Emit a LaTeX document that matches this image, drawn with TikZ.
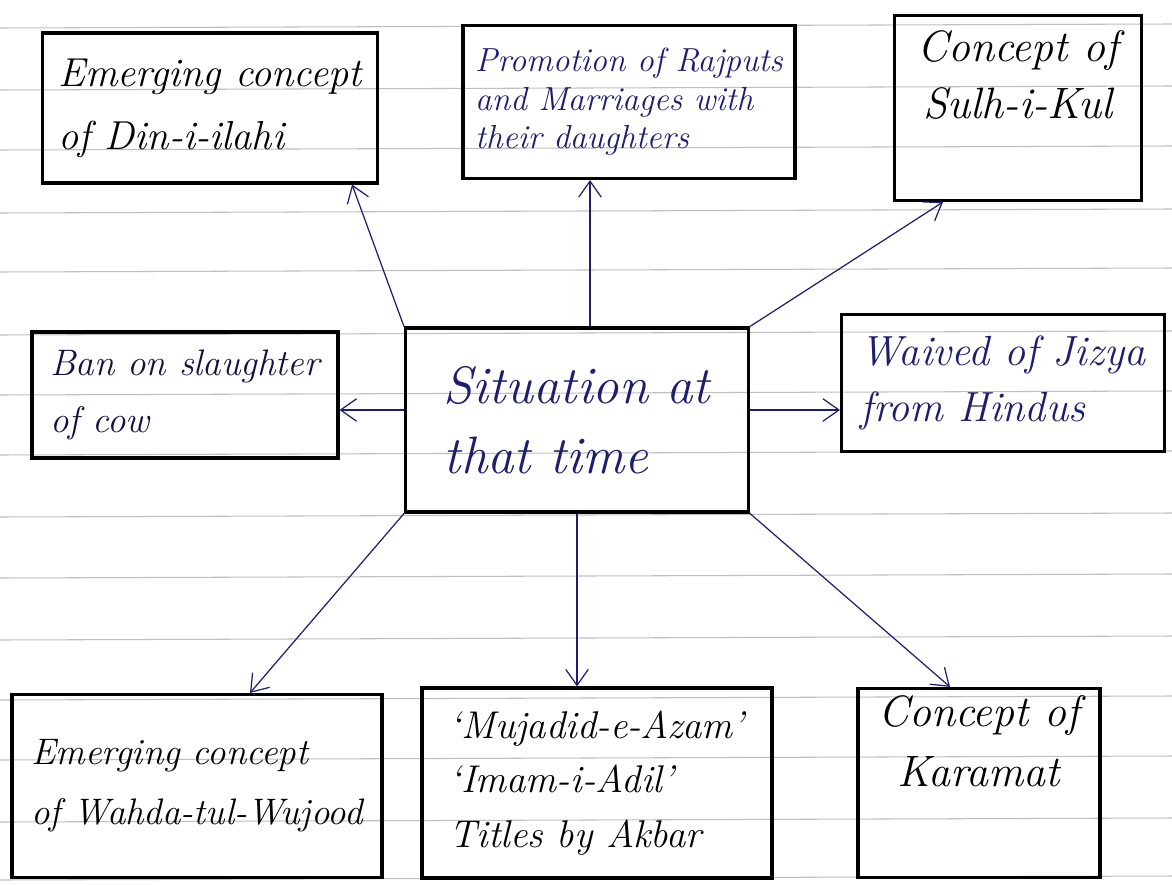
\documentclass[tikz,border=0pt]{standalone}
\usepackage{tikz}
\usetikzlibrary{calc,arrows.meta}
\definecolor{ink}{RGB}{30,30,110}
\tikzset{
	idea/.style={draw=black, line width=1.8pt, align=left, inner sep=4pt, font=\fontsize{23}{36}\selectfont\itshape},
	link/.style={draw=ink, line width=0.7pt, -{Straight Barb[length=3.2mm,width=4.5mm]}},
	rule/.style={draw=black!25, line width=0.6pt}
}

\begin{document}
\begin{tikzpicture}[x=0.02cm, y=-0.02cm]
			%%%%% START %%%%%
			
			\useasboundingbox (0, 0) rectangle (1172, 885);
			\fill[white] (0, 0) rectangle (1172, 885);
			
			% ruled paper
			\foreach \ry in {28, 90, 150, 213, 272, 335, 395, 455, 517, 578, 640, 700, 760, 822, 880}
				\draw[rule] (0, \ry) -- (1172, \ry - 4);
			
			% centre
			\node[idea, text=ink, align=left, minimum width=6.86cm, minimum height=3.68cm, font=\fontsize{30}{40}\selectfont\itshape] (sit) at (577, 420) {Situation at\\that time};
			
			% top row
			\node[idea, minimum width=6.7cm, minimum height=3cm] (din) at (210, 108) {Emerging concept\\of Din-i-ilahi};
			\node[idea, text=ink, minimum width=6.64cm, minimum height=3.06cm, font=\fontsize{19}{22}\selectfont\itshape] (rajput) at (629, 102) {Promotion of Rajputs\\and Marriages with\\their daughters};
			\node[idea, align=center, minimum width=4.94cm, minimum height=3.7cm, font=\fontsize{25}{32}\selectfont\itshape] (sulh) at (1018, 108) {Concept of\\Sulh-i-Kul\\[6pt]};
			
			% middle row
			\node[idea, text=ink!60!black, minimum width=6.12cm, minimum height=2.52cm, font=\fontsize{21}{32}\selectfont\itshape] (ban) at (185, 395) {Ban on slaughter\\of cow};
			\node[idea, text=ink, minimum width=6.46cm, minimum height=2.74cm, font=\fontsize{24}{32}\selectfont\itshape] (jizya) at (1003, 383) {Waived of Jizya\\from Hindus};
			
			% bottom row
			\node[idea, minimum width=7.4cm, minimum height=3.66cm, font=\fontsize{21}{34}\selectfont\itshape] (wahda) at (197, 786) {Emerging concept\\of Wahda-tul-Wujood};
			\node[idea, minimum width=7cm, minimum height=3.8cm, font=\fontsize{22}{31}\selectfont\itshape] (titles) at (597, 783) {`Mujadid-e-Azam'\\`Imam-i-Adil'\\Titles by Akbar};
			\node[idea, align=center, minimum width=4.84cm, minimum height=3.72cm, font=\fontsize{25}{34}\selectfont\itshape] (karamat) at (979, 783) {Concept of\\Karamat\\[14pt]};
			
			% connector ends
			\coordinate (up) at ($(sit.north)+(13, 0)$);
			\coordinate (lt) at ($(sit.west)+(0, -10)$);
			\coordinate (rt) at ($(sit.east)+(0, -10)$);
			
			% connectors
			\draw[link] (sit.north west) -- ($(din.south east)+(-27, 0)$);
			\draw[link] (up) -- (up |- rajput.south);
			\draw[link] (sit.north east) -- ($(sulh.south west)+(50, 0)$);
			\draw[link] (lt) -- (lt -| ban.east);
			\draw[link] (rt) -- (rt -| jizya.west);
			\draw[link] (sit.south west) -- ($(wahda.north)+(53, 0)$);
			\draw[link] (sit.south) -- (sit.south |- titles.north);
			\draw[link] (sit.south east) -- ($(karamat.north)+(-29, 0)$);
			
			%%%%% END %%%%%
		\end{tikzpicture}
\end{document}
